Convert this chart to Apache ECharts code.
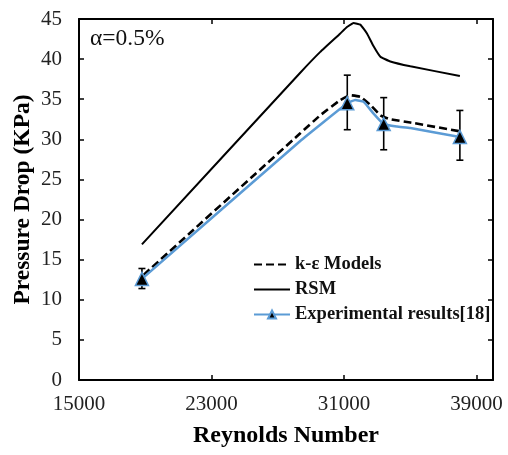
<!DOCTYPE html>
<html>
<head>
<meta charset="utf-8">
<script src="https://cdn.jsdelivr.net/npm/echarts@6/dist/echarts.min.js"></script>
<style>html,body{margin:0;padding:0;background:#fff;}#c{width:508px;height:455px;}</style>
</head>
<body>
<div id="c"></div>
<script>
// ---- data ----
var xTickLabels = ['15000', '23000', '31000', '39000'];
var yTickLabels = ['0','5','10','15','20','25','30','35','40','45'];

// Experimental points with error bars
var expRe = [18800, 31200, 33400, 38000];
var expDp = [12.6, 34.5, 31.9, 30.3];
var expErrLow = [11.4, 31.2, 28.7, 27.4];
var expErrHigh = [13.9, 38.0, 35.2, 33.6];

// Experimental trend curve (blue)
var expCurveRe = [18800, 28360, 31200, 31680, 32190, 32790, 33400, 34200, 35010, 38000];
var expCurveDp = [12.6, 29.8, 34.5, 34.9, 34.7, 33.2, 31.9, 31.6, 31.4, 30.3];

// k-epsilon model (dashed)
var kRe = [18900, 28360, 29570, 30780, 31380, 31990, 32590, 33200, 33800, 35010, 38000];
var kDp = [13.1, 30.75, 33.0, 34.9, 35.5, 35.3, 34.3, 33.0, 32.5, 32.1, 31.0];

// RSM (solid black)
var rsmRe = [18800, 28360, 29570, 30780, 31180, 31580, 31990, 32390, 32790, 33200, 33800, 35010, 38000];
var rsmDp = [16.9, 38.3, 40.9, 43.2, 44.0, 44.5, 44.3, 43.2, 41.6, 40.3, 39.7, 39.1, 37.9];

function zip(a, b) { return a.map(function (v, i) { return [v, b[i]]; }); }

var FONT = '"Liberation Serif", "DejaVu Serif", serif';
var BLUE = '#5B9BD5';

var expLineData = expCurveRe.map(function (r, i) {
  var isPt = expRe.indexOf(r) >= 0;
  return { value: [r, expCurveDp[i]], symbol: isPt ? 'triangle' : 'none' };
});

var errData = expRe.map(function (r, i) { return [r, expErrLow[i], expErrHigh[i]]; });

var chart = echarts.init(document.getElementById('c'), null, { renderer: 'canvas' });

var commonX = {
  type: 'value', min: 15000, max: 40000, interval: 8000,
  splitLine: { show: false },
  axisLine: { show: true, onZero: false, lineStyle: { color: '#000', width: 2 } },
  axisTick: { show: true, inside: true, length: 5, lineStyle: { color: '#000', width: 1.5 } }
};
var commonY = {
  type: 'value', min: 0, max: 45, interval: 5,
  splitLine: { show: false },
  axisLine: { show: true, onZero: false, lineStyle: { color: '#000', width: 2 } },
  axisTick: { show: true, inside: true, length: 5, lineStyle: { color: '#000', width: 1.5 } }
};

chart.setOption({
  animation: false,
  backgroundColor: '#fff',
  grid: { left: 79, right: 15, top: 19, bottom: 75 },
  xAxis: [
    Object.assign({}, commonX, {
      position: 'bottom',
      name: 'Reynolds Number', nameLocation: 'middle', nameGap: 44,
      nameTextStyle: { fontFamily: FONT, fontWeight: 'bold', fontSize: 24, color: '#000' },
      axisLabel: {
        margin: 14, fontFamily: FONT, fontSize: 21, color: '#222',
        formatter: function (v) { var s = String(v); return xTickLabels.indexOf(s) >= 0 ? s : ''; }
      }
    }),
    Object.assign({}, commonX, { position: 'top', axisLabel: { show: false } })
  ],
  yAxis: [
    Object.assign({}, commonY, {
      position: 'left',
      name: 'Pressure Drop (KPa)', nameLocation: 'middle', nameGap: 44, nameMoveOverlap: false,
      nameTextStyle: { fontFamily: FONT, fontWeight: 'bold', fontSize: 23.5, color: '#000' },
      axisLabel: {
        margin: 17, fontFamily: FONT, fontSize: 21, color: '#222',
        formatter: function (v) { var s = String(v); return yTickLabels.indexOf(s) >= 0 ? s : ''; }
      }
    }),
    Object.assign({}, commonY, { position: 'right', axisLabel: { show: false } })
  ],
  legend: {
    orient: 'vertical', left: 248, top: 250,
    itemWidth: 36, itemHeight: 10, itemGap: 6,
    textStyle: { fontFamily: FONT, fontWeight: 'bold', fontSize: 18.5, color: '#111' },
    data: [
      { name: 'k-ε Models', itemStyle: { opacity: 0 } },
      { name: 'RSM', itemStyle: { opacity: 0 } },
      { name: 'Experimental results[18]' }
    ]
  },
  graphic: [{
    type: 'text', left: 90, top: 27,
    style: { text: 'α=0.5%', font: '23.5px ' + FONT, fill: '#111' }
  }],
  series: [
    {
      name: 'RSM', type: 'line', data: zip(rsmRe, rsmDp), smooth: 0.1,
      symbol: 'none', lineStyle: { color: '#000', width: 2 }, itemStyle: { color: '#000' }
    },
    {
      name: 'k-ε Models', type: 'line', data: zip(kRe, kDp), smooth: 0.1,
      symbol: 'none', lineStyle: { color: '#000', width: 2.6, type: [8, 4] }, itemStyle: { color: '#000' }
    },
    {
      name: 'errorbars', type: 'custom', z: 3,
      data: errData,
      renderItem: function (params, api) {
        var x = api.value(0);
        var lo = api.coord([x, api.value(1)]);
        var hi = api.coord([x, api.value(2)]);
        var w = 3.5;
        var st = { stroke: '#000', lineWidth: 1.6 };
        return {
          type: 'group', children: [
            { type: 'line', shape: { x1: lo[0], y1: lo[1], x2: hi[0], y2: hi[1] }, style: st },
            { type: 'line', shape: { x1: lo[0] - w, y1: lo[1], x2: lo[0] + w, y2: lo[1] }, style: st },
            { type: 'line', shape: { x1: hi[0] - w, y1: hi[1], x2: hi[0] + w, y2: hi[1] }, style: st }
          ]
        };
      }
    },
    {
      name: 'Experimental results[18]', type: 'line', data: expLineData, smooth: 0.1,
      symbol: 'triangle', symbolSize: 13, showAllSymbol: true, z: 4,
      lineStyle: { color: BLUE, width: 2.5 },
      itemStyle: { color: '#000', borderColor: BLUE, borderWidth: 1.5 }
    }
  ]
});
</script>
</body>
</html>
